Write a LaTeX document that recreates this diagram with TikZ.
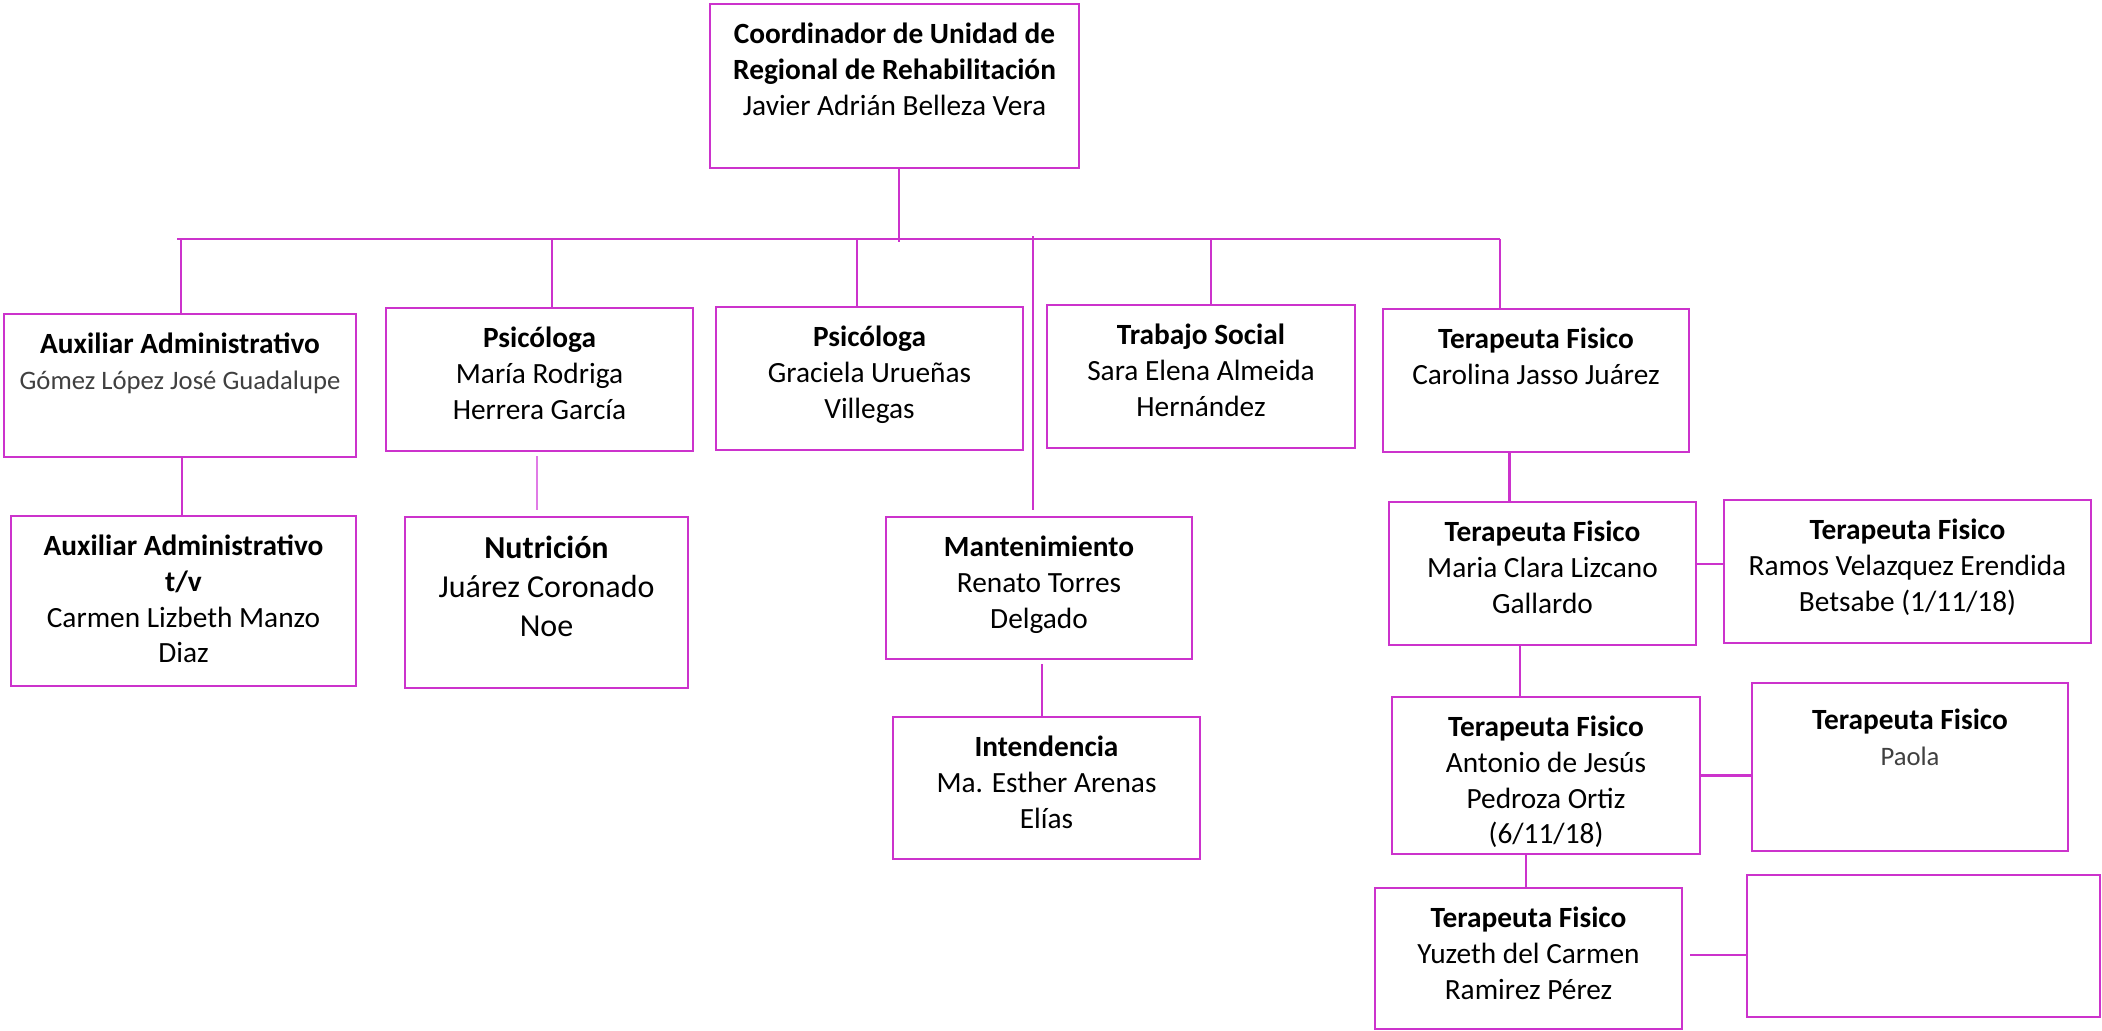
\documentclass[tikz,border=0pt]{standalone}
\usepackage{fontspec}
\setmainfont{Carlito}
\usetikzlibrary{fit}
\definecolor{orgline}{HTML}{CC33CC}
\definecolor{orglight}{HTML}{E07BE6}
\definecolor{namegray}{HTML}{404040}
\newcommand\lightname[1]{{\fontsize{10}{13}\selectfont\color{namegray}#1}}

\begin{document}
\begin{tikzpicture}[x=.375pt,y=-.375pt,
  box/.style={draw=orgline,line width=1.1pt,inner sep=0,fit={#1}},
  txt/.style={anchor=north,yshift=-7.5pt,align=center,inner sep=0,
    font=\fontsize{11}{13.4}\selectfont,execute at begin node=\strut},
  link/.style={draw=orgline,line width=.85pt}]
  \useasboundingbox (0,0) rectangle (2102,1030);

  % top
  \node[box={(710,4) (1079,168)}] (coord) {};
  \node[txt] (coordT) at (coord.north) {\textbf{Coordinador de Unidad de}\\
    \textbf{Regional de Rehabilitación}\\Javier Adrián Belleza Vera};

  % first row
  \node[box={(4,314) (356,457)}] (aux) {};
  \node[txt] (auxT) at (aux.north) {\textbf{Auxiliar Administrativo}\\
    \lightname{Gómez López José Guadalupe}};
  \node[box={(386,308) (693,451)}] (psi1) {};
  \node[txt] (psi1T) at (psi1.north) {\textbf{Psicóloga}\\María Rodriga\\Herrera García};
  \node[box={(716,307) (1023,450)}] (psi2) {};
  \node[txt] (psi2T) at (psi2.north) {\textbf{Psicóloga}\\Graciela Urueñas\\Villegas};
  \node[box={(1047,305) (1355,448)}] (trab) {};
  \node[txt] (trabT) at (trab.north) {\textbf{Trabajo Social}\\Sara Elena Almeida\\Hernández};
  \node[box={(1383,309) (1689,452)}] (carol) {};
  \node[txt] (carolT) at (carol.north) {\textbf{Terapeuta Fisico}\\Carolina Jasso Juárez};

  % second row
  \node[box={(11,516) (356,686)}] (auxtv) {};
  \node[txt] (auxtvT) at (auxtv.north) {\textbf{Auxiliar Administrativo}\\\textbf{t/v}\\
    Carmen Lizbeth Manzo\\Diaz};
  \node[box={(405,517) (688,688)}] (nutri) {};
  \node[txt,font=\fontsize{12}{14.6}\selectfont] (nutriT) at (nutri.north)
    {\textbf{Nutrición}\\Juárez Coronado\\Noe};
  \node[box={(886,517) (1192,659)}] (mant) {};
  \node[txt] (mantT) at (mant.north) {\textbf{Mantenimiento}\\Renato Torres\\Delgado};
  \node[box={(893,717) (1200,859)}] (inten) {};
  \node[txt] (intenT) at (inten.north) {\textbf{Intendencia}\\Ma. Esther Arenas\\Elías};

  % terapeutas
  \node[box={(1389,502) (1696,645)}] (maria) {};
  \node[txt] (mariaT) at (maria.north) {\textbf{Terapeuta Fisico}\\Maria Clara Lizcano\\Gallardo};
  \node[box={(1724,500) (2091,643)}] (ramos) {};
  \node[txt] (ramosT) at (ramos.north) {\textbf{Terapeuta Fisico}\\Ramos Velazquez Erendida\\
    Betsabe (1/11/18)};
  \node[box={(1392,697) (1700,854)}] (anton) {};
  \node[txt] (antonT) at (anton.north) {\textbf{Terapeuta Fisico}\\Antonio de Jesús\\
    Pedroza Ortiz\\(6/11/18)};
  \node[box={(1752,683) (2068,851)}] (paola) {};
  \node[txt,yshift=-2.7pt] (paolaT) at (paola.north) {\textbf{Terapeuta Fisico}\\\lightname{Paola}};
  \node[box={(1375,888) (1682,1029)}] (yuz) {};
  \node[txt] (yuzT) at (yuz.north) {\textbf{Terapeuta Fisico}\\Yuzeth del Carmen\\Ramirez Pérez};
  \node[box={(1747,875) (2100,1017)}] (empty) {};

  % lines
  \coordinate (busL) at (177,239);
  \coordinate (busR) at (1500,239);
  \coordinate (t0) at (899,242);
  \draw[link] (busL) -- (busR);
  \draw[link] (t0 |- coord.south) -- (t0);
  \foreach \t/\b in {181/aux,552/psi1,857/psi2,1211/trab,1500/carol}{
    \coordinate (tap-\b) at (\t,239);
    \draw[link] (tap-\b) -- (tap-\b |- \b.north);
  }
  \coordinate (tapM) at (1033,236);
  \draw[link,shorten >=2pt] (tapM) -- (tapM |- mant.north);

  \draw[link] ([xshift=.75pt]aux.south) -- ([xshift=.75pt]aux.south |- auxtv.north);
  \draw[link,draw=orglight,line width=.5pt,shorten <=1.5pt,shorten >=2pt]
    ([xshift=-.9pt]psi1.south) -- ([xshift=-.9pt]psi1.south |- nutri.north);
  \draw[link,shorten <=1.5pt] ([xshift=1.1pt]mant.south) -- ([xshift=1.1pt]mant.south |- inten.north);

  \draw[link] ([xshift=-9.9pt]carol.south) -- ([xshift=-9.9pt]carol.south |- maria.north);
  \draw[link] ([yshift=3.6pt]maria.east) -- ([yshift=3.6pt]maria.east -| ramos.west);
  \draw[link] ([xshift=-8.4pt]maria.south) -- ([xshift=-8.4pt]maria.south |- anton.north);
  \draw[link] (anton.east) -- (anton.east -| paola.west);
  \draw[link] ([xshift=-7.5pt]anton.south) -- ([xshift=-7.5pt]anton.south |- yuz.north);
  \draw[link,shorten <=2.6pt] ([yshift=1.3pt]yuz.east) -- ([yshift=1.3pt]yuz.east -| empty.west);
\end{tikzpicture}
\end{document}
